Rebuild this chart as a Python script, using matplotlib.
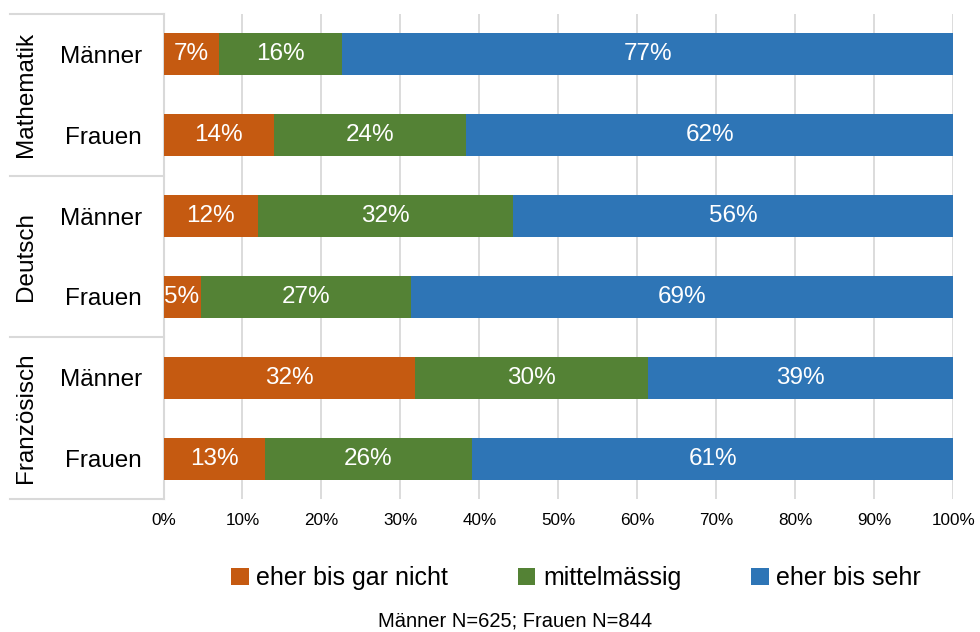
import matplotlib
matplotlib.use('Agg')
import matplotlib.pyplot as plt
import matplotlib.transforms as mtransforms
from matplotlib.patches import Patch
import numpy as np

plt.rcParams['font.family'] = ['Liberation Sans', 'DejaVu Sans']

# Data (share in %)
subjects = ['Mathematik', 'Deutsch', 'Französisch']
groups = ['Männer', 'Frauen']
row_labels = ['Männer', 'Frauen', 'Männer', 'Frauen', 'Männer', 'Frauen']
series_names = ['eher bis gar nicht', 'mittelmässig', 'eher bis sehr']
not_at_all = [7.0, 14.0, 12.0, 4.7, 31.8, 12.8]
medium = [15.6, 24.3, 32.3, 26.7, 29.6, 26.3]
very = [77.4, 61.7, 55.7, 68.6, 38.6, 60.9]
note = 'Männer N=625; Frauen N=844'

colors = ['#C55A11', '#548235', '#2E75B6']
grid_col = '#D9D9D9'

W, H = 980, 632
fig = plt.figure(figsize=(W / 100, H / 100), dpi=100)
ax_left, ax_right, ax_top, ax_bot = 163.5, 953.3, 14, 499
ax = fig.add_axes([ax_left / W, 1 - ax_bot / H, (ax_right - ax_left) / W, (ax_bot - ax_top) / H])

y = np.arange(len(row_labels))
left = np.zeros(len(y))
for vals, col in zip([not_at_all, medium, very], colors):
    vals = np.array(vals)
    bars = ax.barh(y, vals, left=left, height=0.52, color=col, zorder=3)
    ax.bar_label(bars, labels=[f'{v:.0f}%' for v in vals], label_type='center',
                 color='white', fontsize=17.5)
    left += vals

ax.set_xlim(0, 100)
ax.set_ylim(5.5, -0.5)
ax.set_xticks(np.arange(0, 101, 10))
ax.set_xticklabels([f'{t}%' for t in range(0, 101, 10)], fontsize=12.3)
ax.set_yticks(y)
ax.set_yticklabels(row_labels, fontsize=17.5)
ax.tick_params(axis='both', length=0)
ax.tick_params(axis='y', pad=15.5)
ax.tick_params(axis='x', pad=10)
ax.grid(axis='x', color=grid_col, linewidth=1.3, zorder=0)
for s in ['top', 'right', 'bottom']:
    ax.spines[s].set_visible(False)
ax.spines['left'].set_color(grid_col)
ax.spines['left'].set_linewidth(1.5)

# group separators and subject labels
trans = mtransforms.blended_transform_factory(fig.transFigure, ax.transData)
for b in [-0.5, 1.5, 3.5, 5.5]:
    ax.plot([10 / W, ax_left / W], [b, b], transform=trans, color=grid_col,
            linewidth=1.5, clip_on=False)
for i, subj in enumerate(subjects):
    ax.text(26 / W, 2 * i + 0.5, subj, transform=trans, rotation=90,
            ha='center', va='center', fontsize=17.5)

handles = [Patch(facecolor=c, label=n) for c, n in zip(colors, series_names)]
fig.legend(handles=handles, loc='center', bbox_to_anchor=(576 / W, 1 - 578 / H),
           ncol=3, frameon=False, fontsize=18, handlelength=0.7, handleheight=0.7,
           handletextpad=0.3, columnspacing=2.8)

fig.text(515 / W, 1 - 621 / H, note, ha='center', va='center', fontsize=14.5)

fig.savefig('out.png', dpi=100)
